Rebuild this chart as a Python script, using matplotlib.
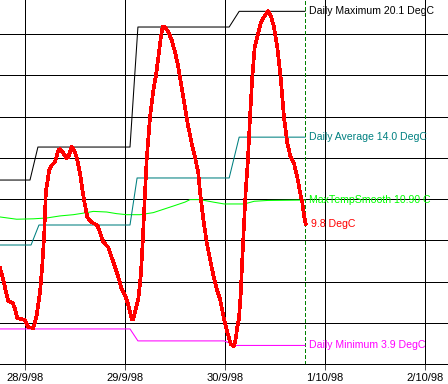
import matplotlib
matplotlib.use("Agg")
import matplotlib.pyplot as plt

# time in hours from 28/9/98 00:00
temp_h = [-6.0, -5.2, -4.4, -4.0, -2.95, -2.4, -1.85, -1.0, 0.0, 0.8, 2.0, 2.4, 2.8, 3.6, 4.15, 4.6,
          5.0, 5.8, 6.4, 7.2, 8.0, 8.4, 9.05, 10.0, 10.4, 11.2, 11.75, 12.4, 13.2, 13.85, 14.4, 14.95,
          16.0, 17.35, 18.0, 18.8, 20.0, 20.8, 21.6, 22.4, 23.2, 24.0, 24.8, 25.6, 26.0, 26.6, 27.2,
          27.8, 28.25, 28.8, 29.2, 30.0, 30.8, 31.45, 32.0, 32.6, 33.05, 33.6, 34.4, 35.2, 36.0, 36.8,
          37.6, 38.4, 39.2, 40.0, 40.8, 41.6, 42.0, 42.8, 43.6, 44.4, 45.2, 46.0, 46.8, 47.65, 48.55,
          49.4, 50.15, 50.55, 50.95, 51.35, 51.8, 52.15, 52.55, 52.95, 53.5, 54.0, 54.55, 55.1, 55.75,
          56.55, 57.35, 58.3, 58.95, 59.75, 60.55, 61.35, 62.15, 62.95, 63.75, 64.55, 65.35, 66.0,
          66.55, 66.95, 67.35]
temp_v = [7.65, 7.07, 6.35, 6.06, 5.96, 5.67, 5.23, 5.18, 5.13, 4.79, 4.75, 5.04, 5.37, 6.49, 7.80, 9.25,
          11.33, 12.40, 12.64, 12.79, 13.37, 13.42, 13.27, 12.98, 13.03, 13.52, 13.37, 13.03, 12.25, 11.33,
          10.70, 10.12, 9.87, 9.73, 9.39, 8.91, 8.66, 8.18, 7.70, 7.21, 6.63, 6.34, 5.86, 5.18, 5.18, 5.67,
          6.15, 7.31, 8.91, 11.33, 12.89, 14.97, 16.28, 17.01, 17.88, 18.85, 19.34, 19.34, 19.10, 18.71,
          18.13, 17.40, 16.43, 15.46, 14.49, 13.71, 13.03, 12.25, 11.33, 10.02, 8.91, 8.09, 7.31, 6.63,
          6.15, 5.28, 4.55, 3.96, 3.87, 4.20, 4.79, 5.18, 6.49, 8.09, 9.73, 11.33, 12.89, 14.97, 16.91,
          18.32, 18.85, 19.53, 19.82, 20.11, 19.92, 19.34, 18.37, 16.91, 14.97, 13.71, 13.03, 12.74,
          12.06, 11.33, 10.85, 10.22, 9.80]

max_h = [-6.0, 1.2, 3.1, 25.2, 27.1, 49.0, 51.4, 67.2]
max_v = [11.92, 11.92, 13.52, 13.52, 19.34, 19.34, 20.1, 20.1]

avg_h = [-6.0, 1.45, 3.35, 25.2, 26.9, 49.0, 51.4, 67.2]
avg_v = [8.77, 8.77, 9.74, 9.74, 12.02, 12.02, 14.0, 14.0]

min_h = [-6.0, 25.2, 27.1, 47.75, 50.6, 67.2]
min_v = [4.70, 4.70, 4.12, 4.12, 3.9, 3.9]

smooth_h = [-6.0, -2.0, 2.0, 5.2, 8.4, 11.6, 14.8, 16.4, 19.6, 22.0, 24.4, 27.6, 30.8, 33.2, 35.6,
            38.4, 39.6, 42.0, 45.2, 47.8, 52.6, 55.0, 58.2, 67.2]
smooth_v = [10.13, 10.02, 10.04, 10.08, 10.18, 10.24, 10.34, 10.40, 10.37, 10.29, 10.24, 10.24, 10.34,
            10.50, 10.66, 10.85, 10.97, 10.97, 10.85, 10.76, 10.76, 10.89, 10.93, 10.95]

now_h = 67.2
tick_h = [0, 24, 48, 72, 96]
tick_labels = ["28/9/98", "29/9/98", "30/9/98", "1/10/98", "2/10/98"]
grid_temps = [5, 7, 9, 11, 13, 15, 17, 19]

labels = [("Daily Maximum 20.1 DegC", 20.1, "black"),
          ("Daily Average 14.0 DegC", 14.0, "#008080"),
          ("MaxTempSmooth 10.90 C", 10.95, "#00ff00"),
          ("9.8 DegC", 9.8, "red"),
          ("Daily Minimum 3.9 DegC", 3.9, "#ff00ff")]

plt.rcParams['font.family'] = ['Liberation Sans', 'DejaVu Sans']
fig = plt.figure(figsize=(4.48, 3.84), dpi=100)
ax = fig.add_axes([0, 20 / 384, 1, 364 / 384])
ax.set_xlim(-6, 101.52)
ax.set_ylim(3, 20.65)

LW = 0.5
for t in grid_temps:
    ax.axhline(t, color="black", lw=LW, zorder=1, antialiased=False)
for h in tick_h:
    ax.axvline(h, color="black", lw=LW, zorder=1, antialiased=False)

ax.axvline(now_h, color="#008000", lw=LW, ls=(0, (5.5, 4)), zorder=2, antialiased=False)

DLW = 0.75
ax.plot(smooth_h, smooth_v, color="#00ff00", lw=DLW, zorder=3)
ax.plot(avg_h, avg_v, color="#008080", lw=DLW, zorder=3)
ax.plot(min_h, min_v, color="#ff00ff", lw=DLW, zorder=3)
ax.plot(max_h, max_v, color="black", lw=DLW, zorder=3)
ax.plot(temp_h, temp_v, color="red", lw=1.9, zorder=4, antialiased=False)

x_lab = 68.2
for txt, val, col in labels:
    xx = x_lab + (0.5 if txt.startswith("9.8") else 0)
    ax.text(xx, val, txt, color=col, fontsize=7.6, va="center", ha="left", zorder=5)

for s in ["left", "right", "top"]:
    ax.spines[s].set_visible(False)
ax.spines["bottom"].set_linewidth(LW)
ax.spines["bottom"].set_antialiased(False)
ax.set_yticks([])
ax.set_xticks(tick_h)
ax.set_xticklabels(tick_labels, fontsize=8)
ax.tick_params(axis="x", direction="out", length=4.5, width=LW, pad=2)

fig.savefig("out.png", dpi=100)
